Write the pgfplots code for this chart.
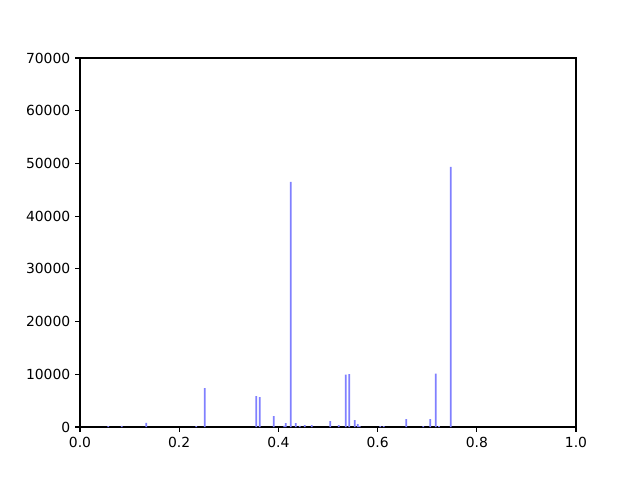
\documentclass[border=0pt]{standalone}
\usepackage{fontspec}
\setmainfont{DejaVu Sans}
\usepackage{pgfplots}
\pgfplotsset{compat=1.18}
\begin{document}
\begin{tikzpicture}
\begin{axis}[
  scale only axis,
  width=357.1pt, height=265.7pt,
  xmin=0, xmax=1, ymin=0, ymax=70000,
  xtick={0,0.2,0.4,0.6,0.8,1.0},
  xticklabel style={/pgf/number format/fixed, /pgf/number format/fixed zerofill, /pgf/number format/precision=1},
  ytick={0,10000,20000,30000,40000,50000,60000,70000},
  scaled y ticks=false,
  scaled x ticks=false,
  /pgf/number format/1000 sep={},
  /pgf/number format/assume math mode=true,
  tick align=outside,
  xtick pos=bottom, ytick pos=left,
  major tick length=3.5pt,
  tick style={line width=0.8pt, black},
  axis line style={line width=0.8pt},
  ticklabel style={font=\fontsize{10}{12}\selectfont},
]
\addplot[ybar, bar width=0.0034, fill=blue!50, draw=none] coordinates {
(0.0571,150) (0.0841,200) (0.1337,800) (0.2345,150) (0.2514,7400)
(0.3554,5880) (0.3623,5690) (0.3905,2090) (0.4119,200) (0.4147,760)
(0.4248,46480) (0.4349,760) (0.4429,200) (0.4530,380) (0.4671,380)
(0.5046,1140) (0.5216,380) (0.5357,9950) (0.5429,10050) (0.5538,1330)
(0.5601,570) (0.5639,190) (0.6054,190) (0.6123,190) (0.6579,1520)
(0.6921,190) (0.7063,1520) (0.7171,10110) (0.7238,190) (0.7476,49330)
};
\end{axis}
\path (current axis.south west) ++(-57.6pt,-38.16pt);
\path (current axis.north east) ++(46.08pt,41.76pt);
\path (current axis.south west) ++(-57.6pt,-38.16pt) coordinate (a);
\path (current axis.north east) ++(46.08pt,41.76pt) coordinate (b);
\path[use as bounding box] (a) rectangle (b);
\end{tikzpicture}
\end{document}
